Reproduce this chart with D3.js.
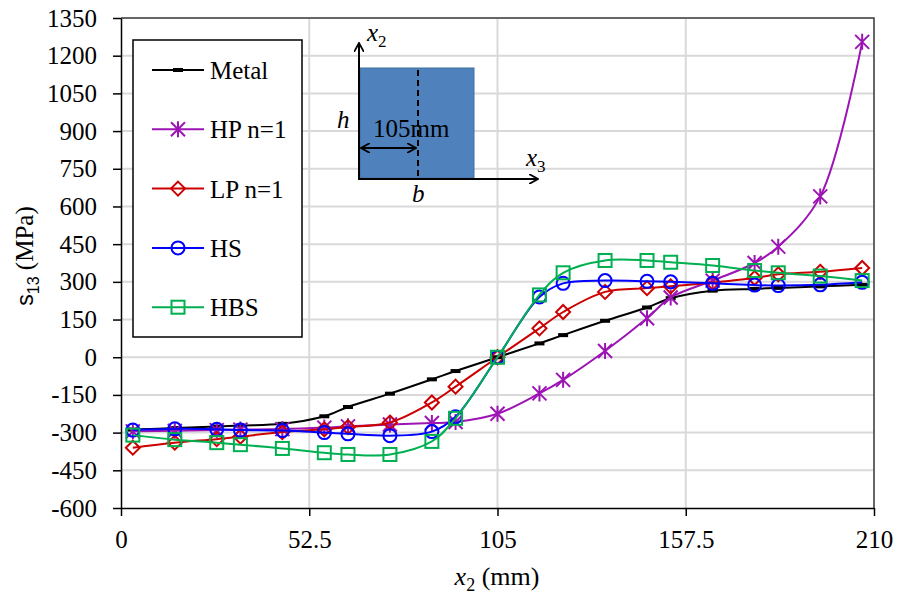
<!DOCTYPE html>
<head>
  <style>
    body { margin: 0; background: #fff; }
    svg text { font-family: "Liberation Serif", "Times New Roman", serif !important; fill: #000; }
    svg text tspan.sans { font-family: "Liberation Sans", Arial, sans-serif !important; }
  </style>
<title>s13 vs x2</title>
</head>
<body>
  <script type="text/javascript" src="https://cdn.jsdelivr.net/npm/d3@7/dist/d3.min.js"></script>
  <script type="text/javascript">
    // data
    var xPos = [3.3, 15, 26.7, 33.3, 45, 56.7, 63.3, 75, 86.7, 93.3, 105,
                116.7, 123.3, 135, 146.7, 153.3, 165, 176.7, 183.3, 195, 206.7];
    var metal = [-288, -282, -276, -272, -265, -235, -198, -145, -88, -55, 0,
                 55, 88, 145, 198, 235, 265, 272, 276, 282, 288];
    var hp = [-295, -293, -290, -288, -286, -280, -275, -268, -262, -258, -225,
              -144, -90, 25, 155, 238, 305, 375, 440, 640, 1255];
    var lp = [-360, -340, -326, -316, -298, -287, -278, -260, -180, -117, 0,
              115, 180, 260, 275, 282, 297, 315, 330, 340, 355];
    var hs = [-290, -285, -287, -290, -292, -300, -305, -312, -296, -237, 0,
              240, 294, 305, 302, 300, 294, 287, 285, 288, 298];
    var hbs = [-310, -328, -340, -348, -363, -380, -387, -387, -335, -243, 0,
               248, 336, 385, 385, 378, 365, 345, 336, 323, 305];

    var seriesNames = ["Metal", "HP n=1", "LP n=1", "HS", "HBS"];
    var seriesVals = [metal, hp, lp, hs, hbs];
    var seriesColors = ["#000000", "#9c14b4", "#cc0000", "#0000ff", "#00b050"];
    var seriesMarks = ["dash", "star", "diamond", "circle", "square"];

    var xTicks = [0, 52.5, 105, 157.5, 210];
    var yTicks = d3.range(-600, 1351, 150);

    // dimensions
    var w = 898;
    var h = 599;
    var margin = ({top: 18, right: 24, bottom: 91, left: 121});

    var x = d3.scaleLinear().domain([0, 210]).range([margin.left, w - margin.right]);
    var y = d3.scaleLinear().domain([-600, 1350]).range([h - margin.bottom, margin.top]);

    var svg = d3.select("body")
                .append("svg")
                .attr("width", w)
                .attr("height", h);

    // gridlines
    var grid = svg.append("g").attr("id", "grid");
    grid.selectAll("line.h")
        .data(yTicks.slice(1))
        .enter().append("line")
        .attr("class", "h")
        .attr("x1", margin.left).attr("x2", w - margin.right)
        .attr("y1", d => y(d)).attr("y2", d => y(d))
        .attr("stroke", "#d9d9d9").attr("stroke-width", 2);
    grid.selectAll("line.v")
        .data(xTicks.slice(1))
        .enter().append("line")
        .attr("class", "v")
        .attr("x1", d => x(d)).attr("x2", d => x(d))
        .attr("y1", margin.top).attr("y2", h - margin.bottom)
        .attr("stroke", "#d9d9d9").attr("stroke-width", 2);

    // plot border top / right
    svg.append("path")
       .attr("d", `M${margin.left},${margin.top}H${w - margin.right}V${h - margin.bottom}`)
       .attr("fill", "none").attr("stroke", "#404040").attr("stroke-width", 1.5);

    // axes
    var xAxis = d3.axisBottom(x).tickValues(xTicks).tickSize(8).tickSizeOuter(0)
                  .tickPadding(14).tickFormat(d => String(d));
    var gx = svg.append("g")
       .attr("transform", `translate(0,${h - margin.bottom})`)
       .call(xAxis);

    var yAxis = d3.axisLeft(y).tickValues(yTicks).tickSize(8).tickSizeOuter(0)
                  .tickPadding(16).tickFormat(d => String(d));
    var gy = svg.append("g")
       .attr("transform", `translate(${margin.left},0)`)
       .call(yAxis);

    [gx, gy].forEach(function(g) {
      g.attr("font-family", null).attr("font-size", 25);
      g.select(".domain").attr("stroke", "#000").attr("stroke-width", 1.5);
      g.selectAll(".tick line").attr("stroke", "#000").attr("stroke-width", 1.5);
      g.selectAll(".tick text")
       .style("font-family", "'Liberation Serif', 'Times New Roman', serif")
       .attr("font-size", 25)
       .attr("fill", "#000");
    });

    // inset sketch of the section
    var inset = svg.append("g").attr("id", "inset");
    inset.append("defs").append("marker")
         .attr("id", "arr").attr("viewBox", "0 0 10 10")
         .attr("refX", 9).attr("refY", 5)
         .attr("markerWidth", 10).attr("markerHeight", 10)
         .attr("markerUnits", "userSpaceOnUse")
         .attr("orient", "auto-start-reverse")
         .append("path").attr("d", "M0,0L9,5L0,10")
         .attr("fill", "none").attr("stroke", "#000").attr("stroke-width", 1.8);
    inset.append("rect")
         .attr("x", 360).attr("y", 68).attr("width", 114).attr("height", 110)
         .attr("fill", "#4f81bd").attr("stroke", "#41719c").attr("stroke-width", 1);
    inset.append("line")
         .attr("x1", 418).attr("x2", 418).attr("y1", 70).attr("y2", 178)
         .attr("stroke", "#000").attr("stroke-width", 2).attr("stroke-dasharray", "6,4");
    inset.append("line")
         .attr("x1", 359).attr("x2", 359).attr("y1", 179).attr("y2", 43)
         .attr("stroke", "#000").attr("stroke-width", 2).attr("marker-end", "url(#arr)");
    inset.append("line")
         .attr("x1", 358).attr("x2", 538).attr("y1", 179).attr("y2", 179)
         .attr("stroke", "#000").attr("stroke-width", 2).attr("marker-end", "url(#arr)");
    inset.append("line")
         .attr("x1", 361).attr("x2", 416).attr("y1", 148).attr("y2", 148)
         .attr("stroke", "#000").attr("stroke-width", 2)
         .attr("marker-start", "url(#arr)").attr("marker-end", "url(#arr)");

    var t1 = inset.append("text").attr("x", 367).attr("y", 41).attr("font-size", 25);
    t1.append("tspan").attr("font-style", "italic").text("x");
    t1.append("tspan").attr("font-size", 17).attr("dy", 6).text("2");
    var t2 = inset.append("text").attr("x", 526).attr("y", 166).attr("font-size", 25);
    t2.append("tspan").attr("font-style", "italic").text("x");
    t2.append("tspan").attr("font-size", 17).attr("dy", 6).text("3");
    inset.append("text").attr("x", 337).attr("y", 128).attr("font-size", 25)
         .attr("font-style", "italic").text("h");
    inset.append("text").attr("x", 373).attr("y", 137).attr("font-size", 25).text("105mm");
    inset.append("text").attr("x", 412).attr("y", 202).attr("font-size", 25)
         .attr("font-style", "italic").text("b");

    // marker drawing
    function drawMark(g, type, color) {
      if (type === "dash") {
        g.append("rect").attr("x", -5).attr("y", -2).attr("width", 10).attr("height", 4)
         .attr("fill", color);
      } else if (type === "star") {
        g.append("path").attr("d", "M0,-8V8M-7,-7L7,7M-7,7L7,-7")
         .attr("stroke", color).attr("stroke-width", 2).attr("fill", "none");
      } else if (type === "diamond") {
        g.append("path").attr("d", "M0,-7L7,0L0,7L-7,0Z")
         .attr("stroke", color).attr("stroke-width", 2).attr("fill", "none");
      } else if (type === "circle") {
        g.append("circle").attr("r", 6.5)
         .attr("stroke", color).attr("stroke-width", 2).attr("fill", "none");
      } else {
        g.append("rect").attr("x", -6.5).attr("y", -6.5).attr("width", 13).attr("height", 13)
         .attr("stroke", color).attr("stroke-width", 2).attr("fill", "none");
      }
    }

    var line = d3.line()
                 .x(d => x(d[0]))
                 .y(d => y(d[1]))
                 .curve(d3.curveCatmullRom.alpha(0.5));

    var series = svg.append("g").attr("id", "series");
    seriesVals.forEach(function(vals, i) {
      var pts = xPos.map((xv, j) => [xv, vals[j]]);
      var g = series.append("g");
      g.append("path")
       .attr("d", line(pts))
       .attr("fill", "none")
       .attr("stroke", seriesColors[i])
       .attr("stroke-width", 2);
      pts.forEach(function(p) {
        var m = g.append("g").attr("transform", `translate(${x(p[0])},${y(p[1])})`);
        drawMark(m, seriesMarks[i], seriesColors[i]);
      });
    });

    // legend
    var legend = svg.append("g").attr("id", "legend");
    legend.append("rect")
          .attr("x", 133).attr("y", 40).attr("width", 169).attr("height", 297)
          .attr("fill", "#fff").attr("stroke", "#000").attr("stroke-width", 1.5);
    seriesNames.forEach(function(name, i) {
      var ly = 70 + i * 59.3;
      var item = legend.append("g").attr("transform", `translate(0,${ly})`);
      item.append("line").attr("x1", 152).attr("x2", 204).attr("y1", 0).attr("y2", 0)
          .attr("stroke", seriesColors[i]).attr("stroke-width", 2);
      var m = item.append("g").attr("transform", "translate(178,0)");
      drawMark(m, seriesMarks[i], seriesColors[i]);
      item.append("text").attr("x", 210).attr("y", 9).attr("font-size", 25).text(name);
    });

    // axis titles
    var xt = svg.append("text")
       .attr("x", 497).attr("y", 585).attr("text-anchor", "middle").attr("font-size", 26);
    xt.append("tspan").attr("font-style", "italic").text("x");
    xt.append("tspan").attr("font-size", 18).attr("dy", 6).text("2");
    xt.append("tspan").attr("dy", -6).text(" (mm)");

    var yt = svg.append("text")
       .attr("transform", "translate(33,256) rotate(-90)")
       .attr("text-anchor", "middle").attr("font-size", 25);
    yt.append("tspan").attr("class", "sans").attr("font-size", 23).text("s");
    yt.append("tspan").attr("class", "sans").attr("font-size", 16).attr("dy", 6).text("13");
    yt.append("tspan").attr("dy", -6).text(" (MPa)");
  </script>
</body>
